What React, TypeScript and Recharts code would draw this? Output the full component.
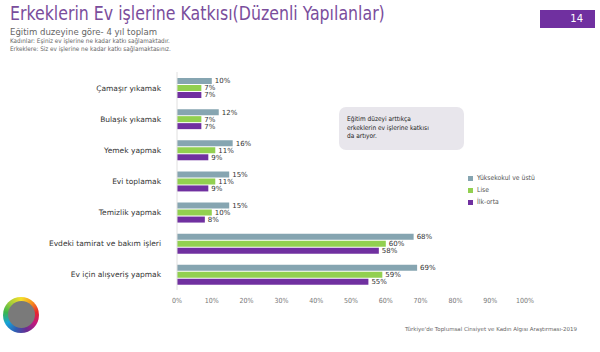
import React from "react";
import { BarChart, Bar, XAxis, YAxis, LabelList } from "recharts";

const categories = [
  "Çamaşır yıkamak",
  "Bulaşık yıkamak",
  "Yemek yapmak",
  "Evi toplamak",
  "Temizlik yapmak",
  "Evdeki tamirat ve bakım işleri",
  "Ev için alışveriş yapmak",
];
const yuksekokul = [10, 12, 16, 15, 15, 68, 69];
const lise = [7, 7, 11, 11, 10, 60, 59];
const ilkOrta = [7, 7, 9, 9, 8, 58, 55];
const xTicks = [0, 10, 20, 30, 40, 50, 60, 70, 80, 90, 100];
const seriesNames = ["Yüksekokul ve üstü", "Lise", "İlk-orta"];
const seriesColors = ["#86a5b1", "#92d050", "#7030a0"];

const data = categories.map((c, i) => ({
  name: c,
  a: yuksekokul[i],
  b: lise[i],
  c: ilkOrta[i],
}));

const FONT = "'DejaVu Sans', 'Open Sans', sans-serif";
const COND = "'DejaVu Sans Condensed', 'DejaVu Sans', sans-serif";

const YTick = (props: any) => {
  const { x, y, payload } = props;
  return (
    <text x={x} y={y} dy={3} textAnchor="end" fontSize={7.5} fill="#333" fontFamily={FONT}>
      {payload.value}
    </text>
  );
};

export default function App() {
  return (
    <div
      style={{
        position: "absolute",
        left: 0,
        top: 0,
        width: 600,
        height: 352,
        background: "#fff",
        fontFamily: FONT,
        overflow: "hidden",
      }}
    >
      <div
        style={{
          position: "absolute",
          left: 10,
          top: 2,
          fontSize: 18,
          fontFamily: COND,
          color: "#7a4d9c",
          whiteSpace: "nowrap",
          transform: "scale(0.975, 1.05)",
          transformOrigin: "left top",
        }}
      >
        Erkeklerin Ev işlerine Katkısı(Düzenli Yapılanlar)
      </div>
      <div style={{ position: "absolute", left: 10, top: 26, fontSize: 9.5, color: "#666", fontFamily: COND }}>
        Eğitim duzeyine göre- 4 yıl toplam
      </div>
      <div style={{ position: "absolute", left: 10, top: 37, fontSize: 6.3, color: "#666", lineHeight: "8px", fontFamily: COND }}>
        Kadınlar: Eşiniz ev işlerine ne kadar katkı sağlamaktadır.
        <br />
        Erkeklere: Siz ev işlerine ne kadar katkı sağlamaktasınız.
      </div>
      <div
        style={{
          position: "absolute",
          left: 540,
          top: 10,
          width: 55,
          height: 18,
          background: "#7030a0",
          color: "#fff",
          fontSize: 10,
          textAlign: "right",
          paddingRight: 12,
          boxSizing: "border-box",
          lineHeight: "18px",
        }}
      >
        14
      </div>
      <div
        style={{
          position: "absolute",
          left: 339,
          top: 107,
          width: 125,
          height: 43,
          background: "#e8e6ec",
          borderRadius: 7,
          fontSize: 6.5,
          color: "#222",
          padding: "8px 8px",
          boxSizing: "border-box",
          lineHeight: "8.5px",
          fontFamily: COND,
          zIndex: 2,
        }}
      >
        Eğitim düzeyi arttıkça
        <br />
        erkeklerin ev işlerine katkısı
        <br />
        da artıyor.
      </div>
      <div style={{ position: "absolute", left: 468, top: 172, fontSize: 6.8, color: "#555", fontFamily: COND, zIndex: 2 }}>
        {seriesNames.map((n, i) => (
          <div key={n} style={{ display: "flex", alignItems: "center", height: 12 }}>
            <span style={{ display: "inline-block", width: 5, height: 5, background: seriesColors[i], marginRight: 4 }} />
            {n}
          </div>
        ))}
      </div>
      <div
        style={{
          position: "absolute",
          left: 3,
          top: 297,
          width: 36,
          height: 36,
          borderRadius: "50%",
          background:
            "conic-gradient(#f4e02a, #f7941d, #e8262b, #c2187e, #6a2c91, #2f5fb3, #15a3d8, #3ab54a, #a6ce39, #f4e02a)",
        }}
      >
        <div
          style={{
            position: "absolute",
            left: 5,
            top: 4,
            width: 27,
            height: 27,
            borderRadius: "50%",
            background: "#7a7a7a",
          }}
        />
      </div>
      <div
        style={{
          position: "absolute",
          left: 405,
          top: 326,
          fontSize: 5.5,
          color: "#666",
          whiteSpace: "nowrap",
        }}
      >
        Türkiye'de Toplumsal Cinsiyet ve Kadın Algısı Araştırması-2019
      </div>
      <div style={{ position: "absolute", left: 0, top: 0 }}>
        <BarChart
          width={600}
          height={352}
          data={data}
          layout="vertical"
          margin={{ top: 72, right: 75, bottom: 42, left: 0 }}
          barSize={6}
          barGap={1}
        >
          <XAxis
            type="number"
            domain={[0, 100]}
            ticks={xTicks}
            tickFormatter={(v: number) => `${v}%`}
            axisLine={false}
            tickLine={false}
            tick={{ fontSize: 7, fill: "#777", fontFamily: COND }}
            height={20}
            interval={0}
          />
          <YAxis
            type="category"
            dataKey="name"
            width={177}
            axisLine={{ stroke: "#e0e0e0" }}
            tickLine={false}
            tick={<YTick />}
            interval={0}
            tickMargin={10}
          />
          <Bar dataKey="a" name={seriesNames[0]} fill={seriesColors[0]} isAnimationActive={false}>
            <LabelList
              dataKey="a"
              position="right"
              formatter={(v: number) => `${v}%`}
              style={{ fontSize: 7, fill: "#333", fontFamily: FONT }}
              offset={3}
            />
          </Bar>
          <Bar dataKey="b" name={seriesNames[1]} fill={seriesColors[1]} isAnimationActive={false}>
            <LabelList
              dataKey="b"
              position="right"
              formatter={(v: number) => `${v}%`}
              style={{ fontSize: 7, fill: "#333", fontFamily: FONT }}
              offset={3}
            />
          </Bar>
          <Bar dataKey="c" name={seriesNames[2]} fill={seriesColors[2]} isAnimationActive={false}>
            <LabelList
              dataKey="c"
              position="right"
              formatter={(v: number) => `${v}%`}
              style={{ fontSize: 7, fill: "#333", fontFamily: FONT }}
              offset={3}
            />
          </Bar>
        </BarChart>
      </div>
    </div>
  );
}
